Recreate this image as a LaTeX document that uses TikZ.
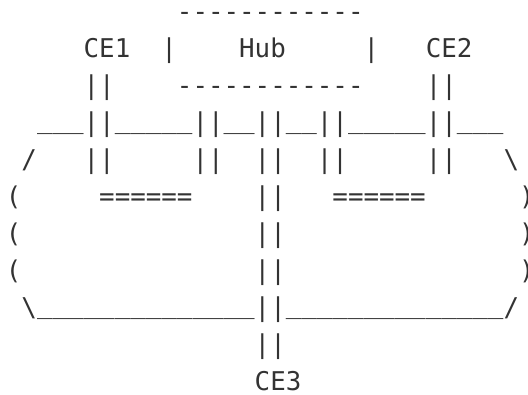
\documentclass[tikz,border=0pt]{standalone}
\usepackage{fontspec}
\setmonofont{DejaVu Sans Mono}
\usepackage{xcolor}
\definecolor{ink}{HTML}{333333}
\newcommand\ul[1]{\raisebox{2.8pt}{#1}}
\begin{document}
\begin{tikzpicture}[x=15.55pt,y=-37pt,
  art/.style={anchor=base west,inner sep=0pt,outer sep=0pt,text=ink,
    font=\ttfamily\fontsize{25.83pt}{30pt}\selectfont}]
\useasboundingbox ([xshift=-5.925pt,yshift=20.2pt]0,0) rectangle ++(528pt,-394pt);
% hub box
\node[art] (hubTop) at (11,0) {------------};
\node[art] (ce1) at (5,1) {CE1};
\node[art] (hubL) at (10,1) {|};
\node[art] (hub) at (15,1) {Hub};
\node[art] (hubR) at (23,1) {|};
\node[art] (ce2) at (27,1) {CE2};
\node[art] (ce1a) at (5,2) {||};
\node[art] (hubBot) at (11,2) {------------};
\node[art] (ce2a) at (27,2) {||};
% cloud top rim
\node[art] (rimTop) at (2,3) {\ul{\_\_\_}||\ul{\_\_\_\_\_}||\ul{\_\_}||\ul{\_\_}||\ul{\_\_\_\_\_}||\ul{\_\_\_}};
\node[art] (slashL) at (1,4) {/};
\node[art] (ce1b) at (5,4) {||};
\node[art] (hubA) at (12,4) {||};
\node[art] (ce3b) at (16,4) {||};
\node[art] (hubB) at (20,4) {||};
\node[art] (ce2b) at (27,4) {||};
\node[art] (slashR) at (32,4) {\textbackslash};
% cloud body
\node[art] (parL1) at (0,5) {(};
\node[art] (pwL) at (6,5) {======};
\node[art] (ce3c) at (16,5) {||};
\node[art] (pwR) at (21,5) {======};
\node[art] (parR1) at (33,5) {)};
\node[art] (parL2) at (0,6) {(};
\node[art] (ce3d) at (16,6) {||};
\node[art] (parR2) at (33,6) {)};
\node[art] (parL3) at (0,7) {(};
\node[art] (ce3e) at (16,7) {||};
\node[art] (parR3) at (33,7) {)};
\node[art] (rimBot) at (1,8) {\textbackslash\ul{\_\_\_\_\_\_\_\_\_\_\_\_\_\_}||\ul{\_\_\_\_\_\_\_\_\_\_\_\_\_\_}/};
\node[art] (ce3f) at (16,9) {||};
\node[art] (ce3) at (16,10) {CE3};
\end{tikzpicture}
\end{document}
